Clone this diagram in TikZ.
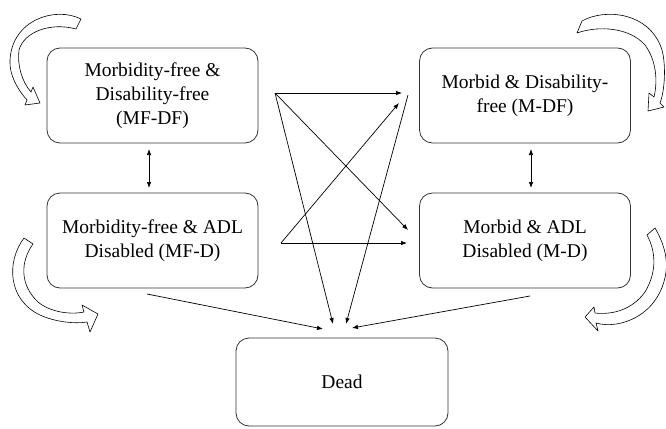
\documentclass[tikz,border=0pt]{standalone}
\usepackage{fontspec}
\setmainfont{Liberation Serif}
\newfontfamily\timesrep{Liberation Serif}
\usetikzlibrary{arrows.meta}
\begin{document}
\begin{tikzpicture}[x=1pt,y=-1pt,
  statebox/.style={draw=black!80, line width=0.8pt, rounded corners=13pt,
    minimum width=211pt, minimum height=95pt, align=center,
    font=\timesrep\fontsize{19.5}{24}\selectfont, inner sep=2pt},
  trans/.style={line width=0.7pt, -{Latex[length=6pt,width=4.5pt]}},
  both/.style={line width=0.7pt, {Latex[length=6pt,width=4.5pt]}-{Latex[length=6pt,width=4.5pt]}},
  loopar/.style={draw=black, fill=white, line width=0.6pt, line join=round}]
\useasboundingbox (0,0) rectangle (666,428);
\fill[white] (0,0) rectangle (666,428);

% states
\node[statebox] (mfdf) at (152.5,95.5) {Morbidity-free \&\\Disability-free\\(MF-DF)};
\node[statebox] (mfd)  at (152.5,240.5) {Morbidity-free \& ADL\\Disabled (MF-D)};
\node[statebox] (mdf)  at (525,95.5) {Morbid \& Disability-\\free (M-DF)};
\node[statebox] (md)   at (525,240.5) {Morbid \& ADL\\Disabled (M-D)};
\node[statebox, minimum width=212pt, minimum height=88pt] (dead) at (342,382) {Dead};

% connector end points
\coordinate (a1) at (275,93);
\coordinate (e1) at (402,93);
\coordinate (e2) at (408,230);
\coordinate (d1) at (333,324);
\coordinate (b1) at (281,243);
\coordinate (e3) at (407,243);
\coordinate (e4) at (399,103);
\coordinate (c1) at (408,95);
\coordinate (d2) at (346,324);
\coordinate (f1) at (147,294);
\coordinate (d0) at (323,329);
\coordinate (g1) at (530,296);
\coordinate (d3) at (352,328);
\coordinate (v1a) at (149,149);
\coordinate (v1b) at (149,188);
\coordinate (v2a) at (531,149);
\coordinate (v2b) at (531,188);

% transitions
\draw[trans] (a1) -- (e1);
\draw[trans] (a1) -- (e2);
\draw[trans] (a1) -- (d1);
\draw[trans] (b1) -- (e3);
\draw[trans] (b1) -- (e4);
\draw[trans] (c1) -- (d2);
\draw[trans] (f1) -- (d0);
\draw[trans] (g1) -- (d3);
\draw[both] (v1a) -- (v1b);
\draw[both] (v2a) -- (v2b);

% self-loop curved block arrows
% top-left
\draw[loopar] (81,19) .. controls (55,6) and (12,20) .. (10,60)
  .. controls (9,75) and (18,90) .. (27,100)
  -- (25,105) -- (40,103) -- (33,87) -- (31,92)
  .. controls (22,82) and (17,65) .. (19,50)
  .. controls (24,32) and (50,22) .. (76,29) -- cycle;
% top-right
\draw[loopar] (582,21) .. controls (605,8) and (650,12) .. (662,50)
  .. controls (666,65) and (665,90) .. (660,103)
  -- (664,107) -- (648,111) -- (649,93) -- (654,97)
  .. controls (658,80) and (656,60) .. (645,45)
  .. controls (630,28) and (600,25) .. (577,33) -- cycle;
% bottom-left
\draw[loopar] (24,238) .. controls (6,262) and (8,300) .. (40,315)
  .. controls (55,322) and (75,324) .. (87,322)
  -- (90,332) -- (98,314) -- (82,305) -- (84,312)
  .. controls (70,315) and (50,312) .. (38,302)
  .. controls (20,285) and (20,262) .. (33,244) -- cycle;
% bottom-right
\draw[loopar] (655,228) .. controls (662,240) and (668,255) .. (666,272)
  .. controls (660,315) and (620,330) .. (596,323)
  -- (598,331) -- (585,317) -- (594,307) -- (595,313)
  .. controls (612,315) and (632,310) .. (645,292)
  .. controls (658,270) and (655,250) .. (647,235) -- cycle;
\end{tikzpicture}
\end{document}
